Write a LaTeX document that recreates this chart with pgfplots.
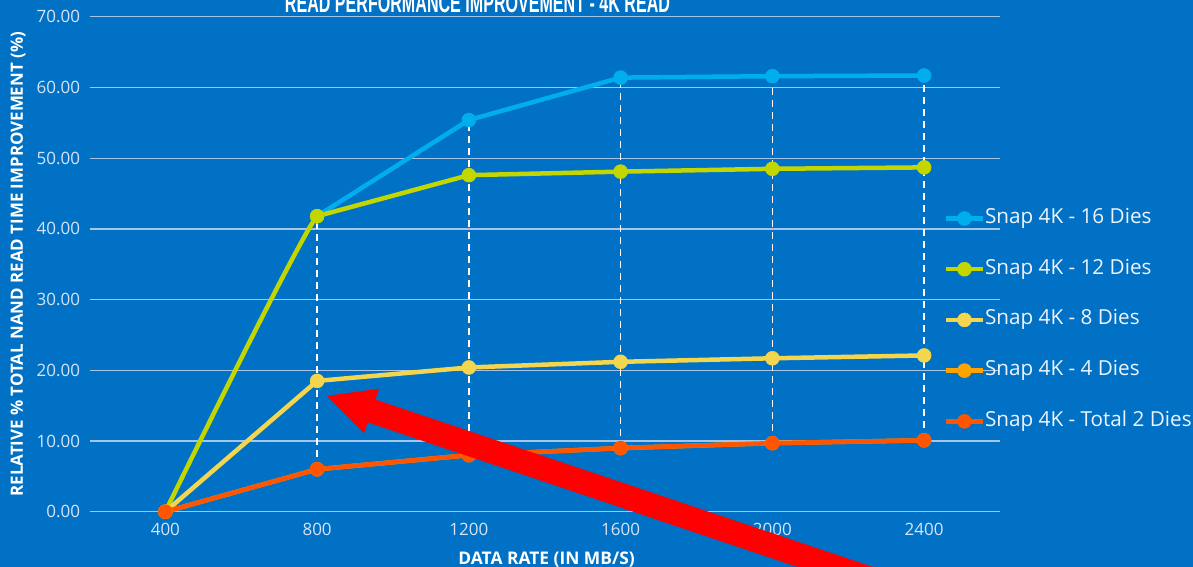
\documentclass[border=0pt]{standalone}
\usepackage{pgfplots}
\pgfplotsset{compat=1.18}
\usepackage{fontspec}
\setmainfont{Open Sans}
\newfontfamily\titlefont{Liberation Sans}
\definecolor{bg}{RGB}{0,113,197}
\definecolor{c16}{RGB}{0,174,239}
\definecolor{c12}{RGB}{196,214,0}
\definecolor{c8}{RGB}{243,213,78}
\definecolor{c4}{RGB}{255,163,0}
\definecolor{c2}{RGB}{255,85,0}
\definecolor{gridc}{RGB}{165,198,234}
\definecolor{tickc}{RGB}{215,228,245}
\definecolor{legc}{RGB}{240,244,250}
\begin{document}
\begin{tikzpicture}[x=1pt,y=1pt]
\fill[bg] (0,0) rectangle (1193,567);
\begin{axis}[
  at={(89.5pt,55.3pt)}, anchor=south west,
  scale only axis, width=910.5pt, height=494.9pt,
  xmin=-0.5, xmax=5.5, ymin=0, ymax=70,
  xtick={0,...,5}, xticklabels={400,800,1200,1600,2000,2400},
  ytick={0,10,...,70},
  axis line style={draw=none},
  major tick style={draw=none},
  ymajorgrids, major grid style={gridc, line width=1.2pt},
  /pgf/number format/.cd, fixed, fixed zerofill, precision=2, assume math mode=true,
  /pgfplots/.cd,
  yticklabel style={font=\fontsize{17}{20}\selectfont, text=tickc, xshift=-6pt},
  xticklabel style={font=\fontsize{17}{20}\selectfont, text=tickc, yshift=-8pt},
  ylabel={RELATIVE \% TOTAL NAND READ TIME IMPROVEMENT (\%)},
  ylabel style={at={(axis description cs:-0.0784,0.5)}, anchor=center, rotate=0, font=\fontsize{16.9}{19}\selectfont\bfseries, text=white},
  xlabel={DATA RATE (IN MB/S)},
  xlabel style={at={(axis description cs:0.502,-0.1075)}, anchor=base, font=\fontsize{17.4}{20}\selectfont\bfseries, text=white},
  every axis plot/.append style={line width=4.5pt, mark=*, mark size=7pt, mark options={line width=0.5pt}},
  legend style={at={(axis description cs:0.9382,0.612)}, anchor=north west, draw=none, fill=none,
    font=\fontsize{20.7}{24}\selectfont, text=legc, row sep=31.7pt, column sep=0pt, inner sep=0pt,
    nodes={inner sep=0pt, text height=14.5pt, text depth=4.5pt}},
  legend cell align=left,
  legend image code/.code={\draw[mark repeat=2, mark phase=2, #1] plot coordinates {(0pt,0pt) (18.3pt,0pt) (36.6pt,0pt)};},
]
% high-low lines
\addplot[forget plot, white, line width=1.6pt, dash pattern=on 7pt off 5pt, mark=none, unbounded coords=jump]
  coordinates {(1,6.0) (1,41.8) (1.5,nan) (2,8.0) (2,55.4) (2.5,nan) (3,9.0) (3,61.4) (3.5,nan) (4,9.7) (4,61.6) (4.5,nan) (5,10.1) (5,61.7)};
\addplot[c16, color=c16] coordinates {(1,41.8) (2,55.4) (3,61.4) (4,61.6) (5,61.7)};
\addlegendentry{Snap 4K - 16 Dies}
% smoothed first segment of the 12-dies series (clipped at 800)
\begin{scope}
\clip (axis cs:-0.5,-5) rectangle (axis cs:1,75);
\addplot[forget plot, c12, color=c12, mark=none, smooth, tension=0.2] coordinates {(0,0) (1,41.8) (2,47.6)};
\end{scope}
\addplot[c12, color=c12] coordinates {(1,41.8) (2,47.6) (3,48.1) (4,48.5) (5,48.7)};
\addlegendentry{Snap 4K - 12 Dies}
\addplot[c8, color=c8] coordinates {(0,0) (1,18.5) (2,20.4) (3,21.2) (4,21.7) (5,22.1)};
\addlegendentry{Snap 4K - 8 Dies}
\addplot[c4, color=c4] coordinates {(0,0) (1,6.0) (2,8.0) (3,9.0) (4,9.7) (5,10.1)};
\addlegendentry{Snap 4K - 4 Dies}
\addplot[c2, color=c2] coordinates {(0,0) (1,6.0) (2,8.0) (3,9.0) (4,9.7) (5,10.1)};
\addlegendentry{Snap 4K - Total 2 Dies}
\end{axis}
\node[anchor=base, inner sep=0pt, text=white] at (477.5,554.2)
  {\resizebox{385pt}{19pt}{\titlefont\bfseries READ PERFORMANCE IMPROVEMENT - 4K READ}};
\fill[red] (327,171) -- (379.1,178.3) -- (375.4,167.4) -- (944.2,-24) -- (936.6,-46.8) -- (367.8,144.6) -- (364.1,133.7) -- cycle;
\pgfresetboundingbox
\useasboundingbox (0,0) rectangle (1193,567);
\end{tikzpicture}
\end{document}
